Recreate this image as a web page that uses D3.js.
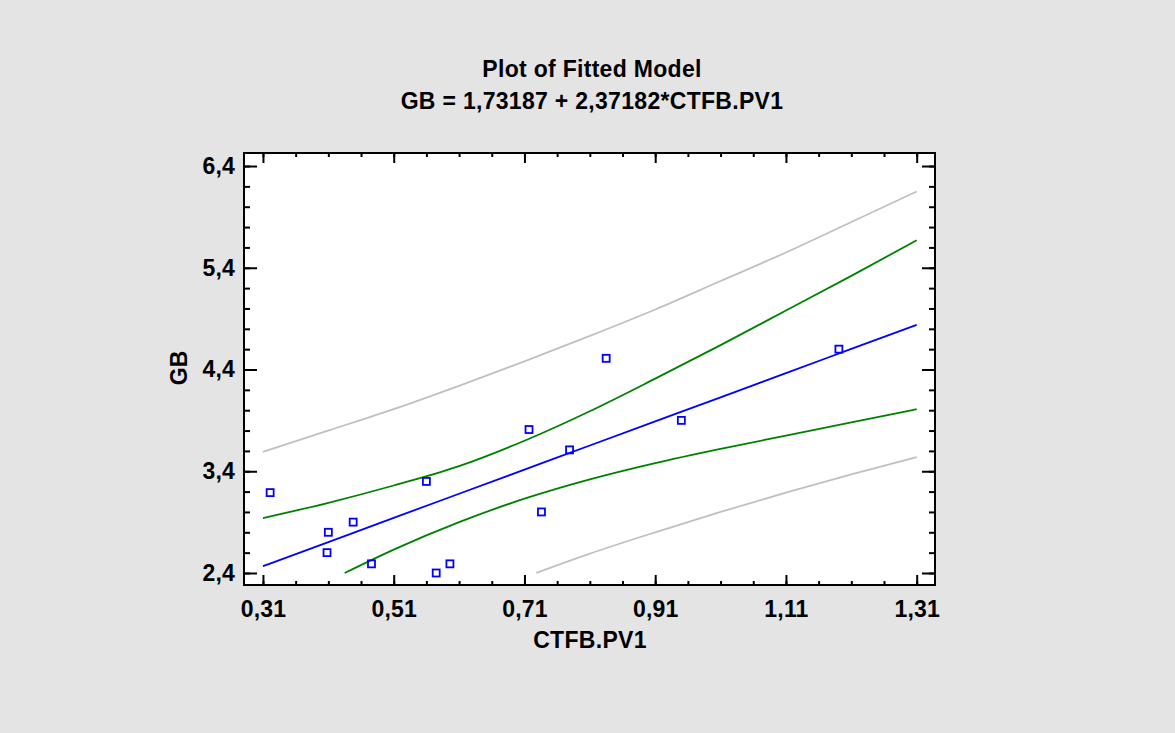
<!DOCTYPE html>
<html>
<head>
<meta charset="utf-8">
<script src="https://cdnjs.cloudflare.com/ajax/libs/d3/7.8.5/d3.min.js"></script>
<style>
  body { margin: 0; background: #e4e4e4; }
  text { font-family: "Liberation Sans", Arial, sans-serif; font-weight: bold; fill: #000; }
</style>
</head>
<body>
<div id="chart"></div>
<script>
// observed points
var pointX = [0.321, 0.410, 0.408, 0.448, 0.476, 0.560, 0.575, 0.596, 0.717, 0.736, 0.779, 0.835, 0.950, 1.191];
var pointY = [3.19, 2.80, 2.60, 2.90, 2.49, 3.30, 2.40, 2.49, 3.81, 3.00, 3.61, 4.51, 3.90, 4.60];

// curves
var curveX = [0.31, 0.41, 0.51, 0.61, 0.71, 0.81, 0.91, 1.01, 1.11, 1.21, 1.31];
var fitY = [2.467, 2.704, 2.942, 3.179, 3.416, 3.653, 3.890, 4.127, 4.365, 4.602, 4.839];
var upperConfY = [2.94, 3.09, 3.26, 3.45, 3.70, 3.99, 4.31, 4.64, 4.98, 5.32, 5.67];
var upperPredY = [3.59, 3.80, 4.01, 4.24, 4.48, 4.73, 4.99, 5.27, 5.55, 5.85, 6.15];
var lowerConfX = [0.435, 0.51, 0.61, 0.71, 0.81, 0.91, 1.01, 1.11, 1.21, 1.31];
var lowerConfY = [2.40, 2.63, 2.90, 3.13, 3.32, 3.48, 3.62, 3.75, 3.88, 4.01];
var lowerPredX = [0.728, 0.81, 0.91, 1.01, 1.11, 1.21, 1.31];
var lowerPredY = [2.40, 2.59, 2.80, 3.00, 3.19, 3.37, 3.54];

var xTicks = [0.31, 0.51, 0.71, 0.91, 1.11, 1.31];
var xTickLabels = ["0,31", "0,51", "0,71", "0,91", "1,11", "1,31"];
var yTicks = [2.4, 3.4, 4.4, 5.4, 6.4];
var yTickLabels = ["2,4", "3,4", "4,4", "5,4", "6,4"];

(function() {
  var width = 1175, height = 733;
  var left = 244, right = 935, top = 153, bottom = 585;

  var svg = d3.select("#chart")
    .append("svg")
    .attr("width", width)
    .attr("height", height);

  svg.append("rect")
    .attr("width", width)
    .attr("height", height)
    .attr("fill", "#e4e4e4");

  var x = d3.scaleLinear().domain([0.281, 1.338]).range([left, right]);
  var y = d3.scaleLinear().domain([2.282, 6.528]).range([bottom, top]);

  svg.append("rect")
    .attr("x", left)
    .attr("y", top)
    .attr("width", right - left)
    .attr("height", bottom - top)
    .attr("fill", "#fff");

  function pairs(xs, ys) {
    return xs.map(function(v, i) { return [v, ys[i]]; });
  }

  var line = d3.line()
    .x(function(d) { return x(d[0]); })
    .y(function(d) { return y(d[1]); })
    .curve(d3.curveMonotoneX);

  var curves = [
    { data: pairs(curveX, upperPredY), color: "#c0c0c0" },
    { data: pairs(lowerPredX, lowerPredY), color: "#c0c0c0" },
    { data: pairs(curveX, upperConfY), color: "#008000" },
    { data: pairs(lowerConfX, lowerConfY), color: "#008000" },
    { data: pairs(curveX, fitY), color: "#0000ff" }
  ];

  svg.selectAll(".curve")
    .data(curves)
    .enter().append("path")
    .attr("class", "curve")
    .attr("d", function(d) { return line(d.data); })
    .attr("fill", "none")
    .attr("stroke", function(d) { return d.color; })
    .attr("stroke-width", 1.8);

  svg.selectAll(".pt")
    .data(pairs(pointX, pointY))
    .enter().append("rect")
    .attr("class", "pt")
    .attr("x", function(d) { return x(d[0]) - 3.5; })
    .attr("y", function(d) { return y(d[1]) - 3.5; })
    .attr("width", 7)
    .attr("height", 7)
    .attr("fill", "none")
    .attr("stroke", "#0000ff")
    .attr("stroke-width", 1.8);

  // ticks on all four sides, pointing inward
  var xMinor = d3.range(0.31, 1.3101, 0.05);
  var yMinor = d3.range(2.4, 6.4001, 0.2);

  function noLabel() { return ""; }

  svg.append("g")
    .attr("transform", "translate(0," + bottom + ")")
    .call(d3.axisBottom(x).tickValues(xTicks).tickSize(-10).tickPadding(16)
      .tickFormat(function(d, i) { return xTickLabels[i]; }));
  svg.append("g")
    .attr("transform", "translate(0," + bottom + ")")
    .call(d3.axisBottom(x).tickValues(xMinor).tickSize(-4).tickFormat(noLabel));
  svg.append("g")
    .attr("transform", "translate(0," + top + ")")
    .call(d3.axisTop(x).tickValues(xTicks).tickSize(-10).tickFormat(noLabel));
  svg.append("g")
    .attr("transform", "translate(0," + top + ")")
    .call(d3.axisTop(x).tickValues(xMinor).tickSize(-4).tickFormat(noLabel));

  svg.append("g")
    .attr("transform", "translate(" + left + ",0)")
    .call(d3.axisLeft(y).tickValues(yTicks).tickSize(-13).tickPadding(9)
      .tickFormat(function(d, i) { return yTickLabels[i]; }));
  svg.append("g")
    .attr("transform", "translate(" + left + ",0)")
    .call(d3.axisLeft(y).tickValues(yMinor).tickSize(-6).tickFormat(noLabel));
  svg.append("g")
    .attr("transform", "translate(" + right + ",0)")
    .call(d3.axisRight(y).tickValues(yTicks).tickSize(-13).tickFormat(noLabel));
  svg.append("g")
    .attr("transform", "translate(" + right + ",0)")
    .call(d3.axisRight(y).tickValues(yMinor).tickSize(-6).tickFormat(noLabel));

  svg.selectAll(".domain").remove();
  svg.selectAll(".tick line").attr("stroke", "#000").attr("stroke-width", 2);
  svg.selectAll(".tick text")
    .style("font-family", "'Liberation Sans', Arial, sans-serif")
    .style("font-weight", "bold")
    .style("font-size", "23px")
    .style("letter-spacing", "0.2px")
    .attr("fill", "#000");

  svg.append("rect")
    .attr("x", left)
    .attr("y", top)
    .attr("width", right - left)
    .attr("height", bottom - top)
    .attr("fill", "none")
    .attr("stroke", "#000")
    .attr("stroke-width", 2);

  // titles
  var titles = [
    { text: "Plot of Fitted Model", x: 592, y: 77 },
    { text: "GB = 1,73187 + 2,37182*CTFB.PV1", x: 592, y: 109 },
    { text: "CTFB.PV1", x: 590, y: 648 }
  ];

  svg.selectAll(".title")
    .data(titles)
    .enter().append("text")
    .attr("class", "title")
    .attr("x", function(d) { return d.x; })
    .attr("y", function(d) { return d.y; })
    .attr("text-anchor", "middle")
    .style("font-size", "23px")
    .style("letter-spacing", "0.3px")
    .text(function(d) { return d.text; });

  svg.append("text")
    .attr("transform", "translate(187,368) rotate(-90)")
    .attr("text-anchor", "middle")
    .style("font-size", "23px")
    .text("GB");
})();
</script>
</body>
</html>
